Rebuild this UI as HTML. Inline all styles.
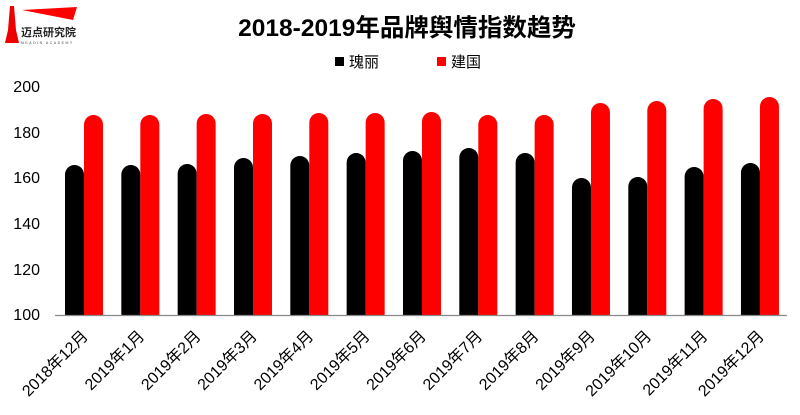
<!DOCTYPE html>
<html><head><meta charset="utf-8"><style>
html,body{margin:0;padding:0;background:#fff;}
svg{display:block;font-family:"Liberation Sans","Noto Sans CJK SC",sans-serif;}
</style></head><body>
<svg width="800" height="415" viewBox="0 0 800 415" xmlns="http://www.w3.org/2000/svg">
<polygon points="10,6 14,6 16,30 19,43 5,43 8,30" fill="#e00"/>
<polygon points="22,10 77,7 73,20" fill="#f00"/>
<text x="21" y="36" font-size="11" font-weight="bold" fill="#222">迈点研究院</text>
<text x="21" y="44" font-size="3.5" fill="#444" letter-spacing="1.5">MEADIN ACADEMY</text>
<text x="407" y="36" font-size="24.5" font-weight="bold" text-anchor="middle" fill="#000">2018-2019年品牌舆情指数趋势</text>
<rect x="335" y="57" width="9" height="9" fill="#000"/>
<text x="349" y="67" font-size="15" fill="#000">瑰丽</text>
<rect x="437" y="57" width="9" height="9" fill="#f00"/>
<text x="451" y="67" font-size="15" fill="#000">建国</text>
<g font-size="16" fill="#000" text-anchor="end">
<text x="40" y="92">200</text>
<text x="40" y="138">180</text>
<text x="40" y="183">160</text>
<text x="40" y="229">140</text>
<text x="40" y="275">120</text>
<text x="40" y="320">100</text>
</g>
<g id="bars"></g>
<line x1="55" y1="315.5" x2="787" y2="315.5" stroke="#888" stroke-width="1.2"/>
<g id="labels" font-size="16" fill="#000" text-anchor="end"></g>
</svg>
<script>
var bt=[165,165,164,158,156,153,151,148,153,178,177,167,163];
var rt=[115,115,114,114,113,113,112,115,115,103,101,99,97];
var lab=["2018年12月","2019年1月","2019年2月","2019年3月","2019年4月","2019年5月","2019年6月","2019年7月","2019年8月","2019年9月","2019年10月","2019年11月","2019年12月"];
var ns="http://www.w3.org/2000/svg",b=document.getElementById("bars"),l=document.getElementById("labels");
function bar(x,t,c){var p=document.createElementNS(ns,"path");var w=19,r=9.5;
p.setAttribute("d","M"+x+",315 L"+x+","+(t+r)+" A"+r+","+r+" 0 0 1 "+(x+w)+","+(t+r)+" L"+(x+w)+",315 Z");p.setAttribute("fill",c);b.appendChild(p);}
for(var i=0;i<13;i++){var x=65+i*56.33;bar(x,bt[i],"#000");bar(x+19,rt[i],"#f00");
var t=document.createElementNS(ns,"text");var cx=x+24,cy=337;t.setAttribute("x",cx);t.setAttribute("y",cy);
t.setAttribute("transform","rotate(-45 "+cx+" "+cy+")");t.textContent=lab[i];l.appendChild(t);}
</script>
</body></html>
